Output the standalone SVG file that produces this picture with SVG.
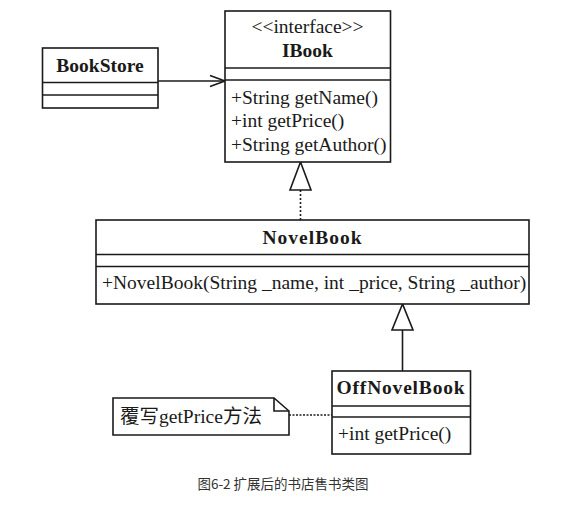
<svg xmlns="http://www.w3.org/2000/svg" width="570" height="511" viewBox="0 0 570 511">
<style>
.box{fill:#fff;stroke:#1a1a1a;stroke-width:1.6}
.ln{stroke:#1a1a1a;stroke-width:1.6;fill:none}
.t{font-family:"Liberation Serif","Times New Roman",serif;font-size:19.5px;fill:#1a1a1a}
.b{font-weight:bold}
.c{text-anchor:middle}
.cjk{font-family:"Liberation Serif","Noto Sans CJK SC",serif}
</style>
<rect width="570" height="511" fill="#fff"/>
<g id="connectors">
  <line class="ln" x1="158" y1="81" x2="224" y2="81"/>
  <polyline class="ln" points="210,75.5 225,81 210,86.5"/>
  <line class="ln" x1="300.5" y1="190" x2="300.5" y2="220" stroke-dasharray="2,2"/>
  <polygon class="box" points="300.5,162 290,190 311,190"/>
  <line class="ln" x1="402.5" y1="330" x2="402.5" y2="371"/>
  <polygon class="box" points="402.5,304 392,330 413,330"/>
  <line class="ln" x1="289" y1="415" x2="332" y2="415" stroke-dasharray="2,1.5"/>
</g>
<g id="BookStore">
  <rect class="box" x="42.5" y="48" width="115.5" height="60"/>
  <line class="ln" x1="42.5" y1="82.5" x2="158" y2="82.5"/>
  <line class="ln" x1="42.5" y1="95" x2="158" y2="95"/>
  <text class="t b c" x="100" y="72">BookStore</text>
</g>
<g id="IBook">
  <rect class="box" x="225" y="11" width="165.5" height="151"/>
  <line class="ln" x1="225" y1="68" x2="390.5" y2="68"/>
  <line class="ln" x1="225" y1="80" x2="390.5" y2="80"/>
  <text class="t c" x="307.5" y="33">&lt;&lt;interface&gt;&gt;</text>
  <text class="t b c" x="307.5" y="57">IBook</text>
  <text class="t" x="231" y="104">+String getName()</text>
  <text class="t" x="231" y="127">+int getPrice()</text>
  <text class="t" x="231" y="151">+String getAuthor()</text>
</g>
<g id="NovelBook">
  <rect class="box" x="96" y="220" width="433" height="84"/>
  <line class="ln" x1="96" y1="254.5" x2="529" y2="254.5"/>
  <line class="ln" x1="96" y1="266.5" x2="529" y2="266.5"/>
  <text class="t b c" x="312.5" y="244" letter-spacing="1">NovelBook</text>
  <text class="t" x="102" y="289">+NovelBook(String _name, int _price, String _author)</text>
</g>
<g id="OffNovelBook">
  <rect class="box" x="332" y="371" width="138.5" height="83"/>
  <line class="ln" x1="332" y1="406" x2="470.5" y2="406"/>
  <line class="ln" x1="332" y1="417" x2="470.5" y2="417"/>
  <text class="t b c" x="401" y="394" letter-spacing="0.8">OffNovelBook</text>
  <text class="t" x="338" y="440">+int getPrice()</text>
</g>
<g id="note">
  <path class="box" d="M113,398 H274 L289,411 V435 H113 Z"/>
  <path class="ln" d="M274,398 V411 H289"/>
  <text class="t cjk" x="120" y="423" font-size="20">覆写getPrice方法</text>
</g>
<text x="283" y="489" text-anchor="middle" font-family="'Noto Sans CJK SC',sans-serif" font-size="13.5" fill="#333">图6-2 扩展后的书店售书类图</text>
</svg>
